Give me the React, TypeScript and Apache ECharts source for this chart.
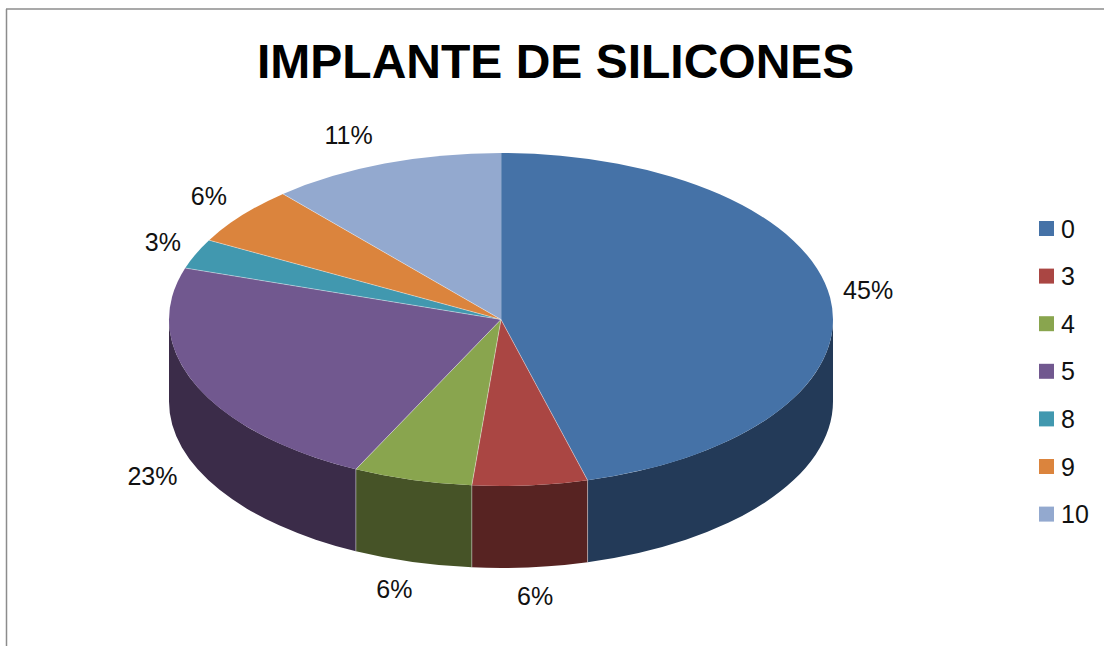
import React, { useEffect, useRef } from "react";
import * as echarts from "echarts";

const titleText = "IMPLANTE DE SILICONES";
const categories = ["0", "3", "4", "5", "8", "9", "10"];
const sliceValues = [45.8, 5.6, 5.8, 22.8, 2.9, 5.7, 11.4];
const percentLabels = ["45%", "6%", "6%", "23%", "3%", "6%", "11%"];
const topColors = ["#4572A7", "#AA4643", "#89A54E", "#71588F", "#4198AF", "#DB843D", "#93A9CF"];
const wallColors = ["#233A58", "#572322", "#465327", "#3B2C49", "#215A68", "#7A481F", "#4A5A78"];

const CX = 501;
const CY = 319.5;
const RX = 332;
const RY = 166.5;
const DEPTH = 82;
// label centre offset from the rim point at each slice's mid-angle
const labelOffsets = [[38, -8], [5, 29], [-18, 27], [-43, 9], [-33, -12], [-33, -19], [-36, -29]];

const total = sliceValues.reduce((a, b) => a + b, 0);
const px = (t: number) => CX + RX * Math.sin(t);
const py = (t: number) => CY - RY * Math.cos(t);
const EDGE = "rgba(255,255,255,0.4)";

function renderSlice(params: any, api: any) {
  const i = params.seriesIndex;
  const value = api.value(0);
  const before = api.value(1);
  const a = (before / total) * 2 * Math.PI;
  const b = ((before + value) / total) * 2 * Math.PI;
  const large = b - a > Math.PI ? 1 : 0;
  const children: any[] = [];

  const wa = Math.max(a, Math.PI / 2);
  const wb = Math.min(b, (3 * Math.PI) / 2);
  if (wb > wa) {
    const d =
      `M${px(wa)} ${py(wa)} A${RX} ${RY} 0 0 1 ${px(wb)} ${py(wb)} ` +
      `L${px(wb)} ${py(wb) + DEPTH} A${RX} ${RY} 0 0 0 ${px(wa)} ${py(wa) + DEPTH} Z`;
    children.push({ type: "path", shape: { pathData: d }, style: { fill: wallColors[i] } });
    if (a >= Math.PI / 2) {
      children.push({
        type: "line",
        shape: { x1: px(a), y1: py(a), x2: px(a), y2: py(a) + DEPTH },
        style: { stroke: EDGE, lineWidth: 1 },
      });
    }
  }

  const top = `M${CX} ${CY} L${px(a)} ${py(a)} A${RX} ${RY} 0 ${large} 1 ${px(b)} ${py(b)} Z`;
  children.push({ type: "path", shape: { pathData: top }, style: { fill: topColors[i] } });
  children.push({
    type: "line",
    shape: { x1: CX, y1: CY, x2: px(a), y2: py(a) },
    style: { stroke: EDGE, lineWidth: 1 },
  });

  const mid = (a + b) / 2;
  const lowerSide = mid > Math.PI / 2 && mid < (3 * Math.PI) / 2;
  children.push({
    type: "text",
    style: {
      text: percentLabels[i],
      x: px(mid) + labelOffsets[i][0],
      y: py(mid) + (lowerSide ? DEPTH : 0) + labelOffsets[i][1],
      fill: "#111111",
      font: "25px 'Liberation Sans'",
      textAlign: "center",
      textVerticalAlign: "middle",
    },
  });
  return { type: "group", children };
}

export default function App() {
  const ref = useRef<HTMLDivElement>(null);
  useEffect(() => {
    const chart = echarts.init(ref.current!, null, { renderer: "svg" });
    let running = 0;
    const series = categories.map((name, i) => {
      const item = [sliceValues[i], running];
      running += sliceValues[i];
      return {
        type: "custom",
        name,
        coordinateSystem: "none",
        silent: true,
        itemStyle: { color: topColors[i] },
        data: [item],
        renderItem: renderSlice,
      };
    });
    chart.setOption({
      animation: false,
      backgroundColor: "#FFFFFF",
      title: {
        text: titleText,
        left: 252,
        top: 32,
        textStyle: { fontFamily: "Liberation Sans", fontWeight: "bold", fontSize: 48, color: "#000000" },
      },
      legend: {
        orient: "vertical",
        left: 1039,
        top: 216,
        padding: 0,
        data: categories,
        icon: "rect",
        itemWidth: 15,
        itemHeight: 15,
        itemGap: 22.6,
        selectedMode: false,
        textStyle: { fontFamily: "Liberation Sans", fontSize: 25, color: "#111111", padding: [0, 0, 0, 2] },
      },
      graphic: [
        { type: "line", shape: { x1: 6.5, y1: 9, x2: 6.5, y2: 646 }, style: { stroke: "#8C8C8C", lineWidth: 1.5 } },
        { type: "line", shape: { x1: 6, y1: 9, x2: 1104, y2: 9 }, style: { stroke: "#8C8C8C", lineWidth: 1.5 } },
      ],
      series,
    });
    return () => chart.dispose();
  }, []);
  return <div ref={ref} style={{ position: "absolute", left: 0, top: 0, width: 1104, height: 646 }} />;
}
